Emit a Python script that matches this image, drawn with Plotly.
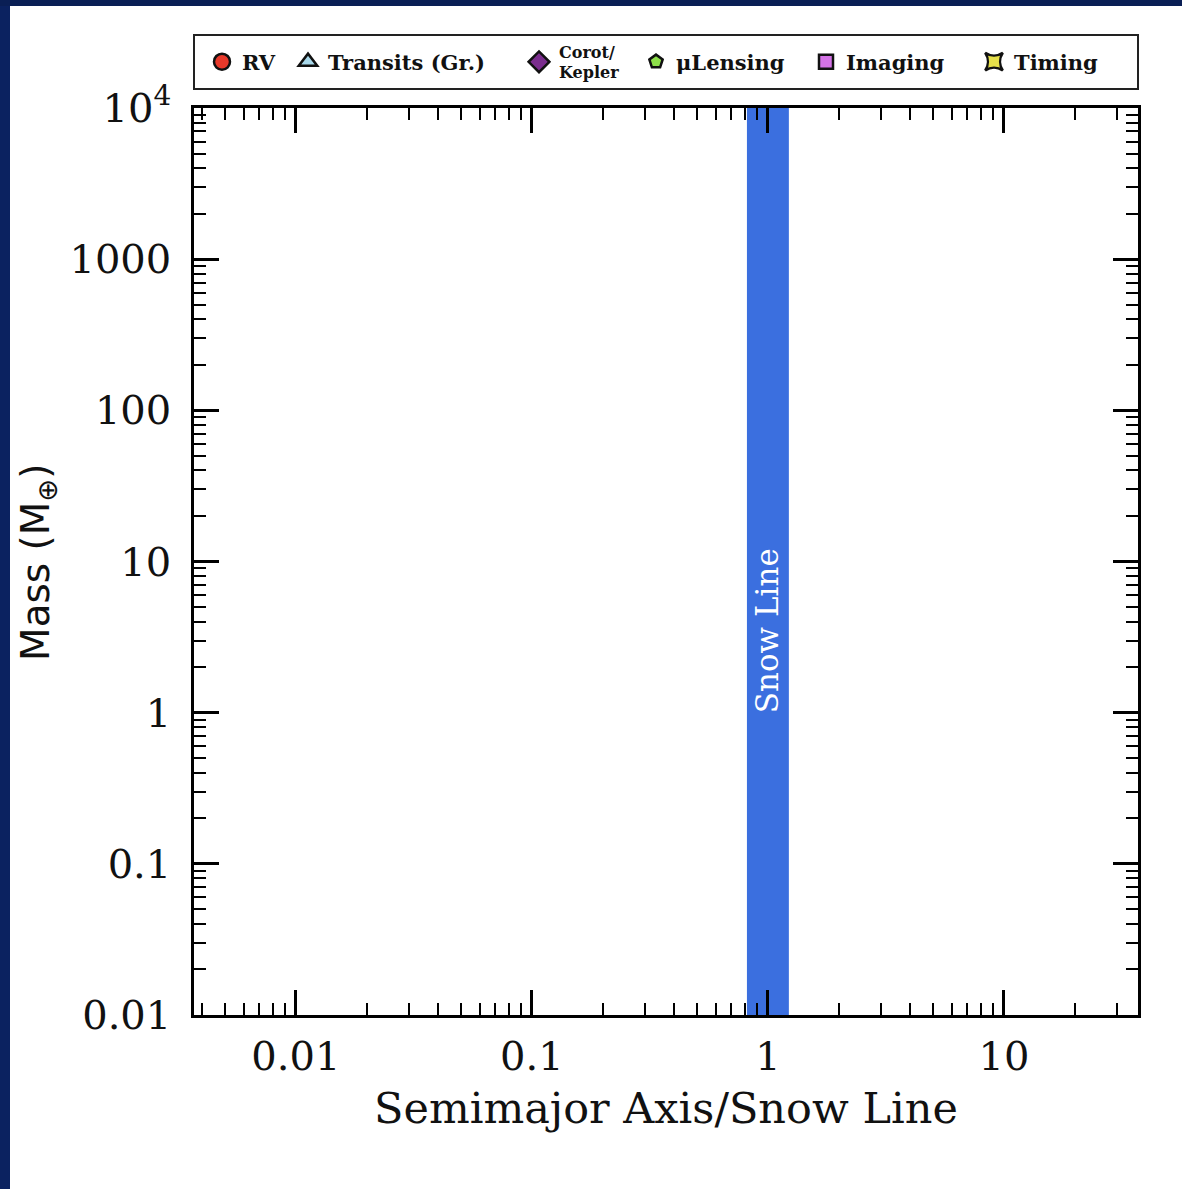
import numpy as np
import plotly.graph_objects as go

# ---------------- data ----------------
legend_names = ["RV", "Transits (Gr.)", "Corot/<br>Kepler", "\u03bcLensing", "Imaging", "Timing"]
legend_symbols = ["circle", "triangle-up", "diamond", "pentagon", "square", "star-square"]
legend_colors = ["#e8392a", "#a8d8ea", "#7b2d8e", "#8ee04a", "#d473e6", "#e6e04a"]
legend_sizes = [18, 16, 26, 14, 14, 18]
legend_marker_px = [222, 308, 539, 656, 826, 994]   # legend item centres (px)

x_tickvals = [0.01, 0.1, 1, 10]
x_ticktext = ["0.01", "0.1", "1", "10"]
y_tickvals = [0.01, 0.1, 1, 10, 100, 1000, 10000]
y_ticktext = ["0.01", "0.1", "1", "10", "100", "1000", "10<sup>4</sup>"]

x_range = [0.0037, 37.0]
y_range = [0.01, 10000]

snow_line_band = [0.815, 1.227]
snow_label_pos = [1.0, 3.5]

# ---------------- layout geometry ----------------
W, H = 1182, 1189
L, R, T, B = 194, 44, 108, 174
PW, PH = W - L - R, H - T - B

def px2paper_x(px):
    return (px - L) / PW

def px2paper_y(py):
    return (H - B - py) / PH

def minor_vals(lo_exp, hi_exp):
    v = []
    for e in range(lo_exp, hi_exp + 1):
        for m in range(2, 10):
            v.append(m * 10.0 ** e)
    return v

fig = go.Figure()

serif = "DejaVu Serif"

for i, (n, s, c, sz) in enumerate(zip(legend_names, legend_symbols, legend_colors, legend_sizes)):
    lname = "legend" if i == 0 else f"legend{i+1}"
    fig.add_trace(go.Scatter(
        x=[None], y=[None], mode="markers", name=n,
        marker=dict(symbol=s, color=c, size=sz, line=dict(color="#111111", width=2.5)),
        legend=lname, showlegend=True,
    ))

legend_common = dict(
    bgcolor="rgba(0,0,0,0)", borderwidth=0,
    yanchor="middle", xanchor="left",
    font=dict(family=serif, size=21, color="#111111", weight="bold"),
    itemclick=False, itemdoubleclick=False, itemsizing="trace",
)
for i, mpx in enumerate(legend_marker_px):
    lname = "legend" if i == 0 else f"legend{i+1}"
    cfg = dict(legend_common)
    cfg["x"] = px2paper_x(mpx - 20)
    cfg["y"] = px2paper_y(62)
    if i == 2:
        cfg["font"] = dict(family=serif, size=16, color="#111111", weight="bold")
    fig.update_layout(**{lname: cfg})

axis_common = dict(
    type="log",
    showgrid=False, zeroline=False,
    showline=True, linecolor="black", linewidth=2.5,
    mirror="allticks",
    ticks="inside", ticklen=25, tickwidth=2.5, tickcolor="black",
    tickfont=dict(family=serif, size=40, color="#111111"),
)

fig.update_xaxes(
    **axis_common,
    ticklabelstandoff=4,
    range=[np.log10(x_range[0]), np.log10(x_range[1])],
    tickvals=x_tickvals, ticktext=x_ticktext,
    minor=dict(ticks="inside", ticklen=12, tickwidth=2, tickcolor="black",
               tickvals=minor_vals(-3, 1), showgrid=False),
)
fig.update_yaxes(
    **axis_common,
    ticklabelstandoff=12,
    range=[np.log10(y_range[0]), np.log10(y_range[1])],
    tickvals=y_tickvals, ticktext=y_ticktext,
    minor=dict(ticks="inside", ticklen=12, tickwidth=2, tickcolor="black",
               tickvals=minor_vals(-2, 3), showgrid=False),
)

shapes = [
    # snow line band
    dict(type="rect", xref="x", yref="paper", x0=snow_line_band[0], x1=snow_line_band[1],
         y0=0, y1=1, fillcolor="#3b6fdf", line=dict(width=0), layer="below"),
    # legend box
    dict(type="rect", xref="paper", yref="paper", x0=0, x1=1,
         y0=px2paper_y(89), y1=px2paper_y(35), fillcolor="rgba(0,0,0,0)",
         line=dict(color="#222222", width=2)),
    # dark blue frame strips
    dict(type="rect", xref="paper", yref="paper", x0=px2paper_x(0), x1=px2paper_x(10),
         y0=px2paper_y(H), y1=px2paper_y(0), fillcolor="#0b2260", line=dict(width=0)),
    dict(type="rect", xref="paper", yref="paper", x0=px2paper_x(0), x1=px2paper_x(W),
         y0=px2paper_y(6), y1=px2paper_y(0), fillcolor="#0a1f55", line=dict(width=0)),
]

annotations = [
    dict(text="Snow Line", x=np.log10(snow_label_pos[0]), y=np.log10(snow_label_pos[1]),
         xref="x", yref="y", showarrow=False, textangle=-90,
         font=dict(family=serif, size=31, color="white"),
         xanchor="center", yanchor="middle"),
    dict(text="Semimajor Axis/Snow Line", x=0.5, y=px2paper_y(1108), xref="paper", yref="paper",
         showarrow=False, font=dict(family=serif, size=43, color="#111111"),
         xanchor="center", yanchor="middle"),
    dict(text="Mass (M<sub>\u2295</sub>)", x=px2paper_x(38), y=px2paper_y(562),
         xref="paper", yref="paper", showarrow=False, textangle=-90,
         font=dict(family="DejaVu Sans", size=39, color="#111111"),
         xanchor="center", yanchor="middle"),
]

fig.update_layout(
    width=W, height=H,
    margin=dict(l=L, r=R, t=T, b=B, pad=0),
    paper_bgcolor="white", plot_bgcolor="white",
    shapes=shapes, annotations=annotations,
)

fig.write_html(
    "out.html",
    config={"displayModeBar": False},
    post_script="document.body.style.margin='0';document.body.style.overflow='hidden';",
)
